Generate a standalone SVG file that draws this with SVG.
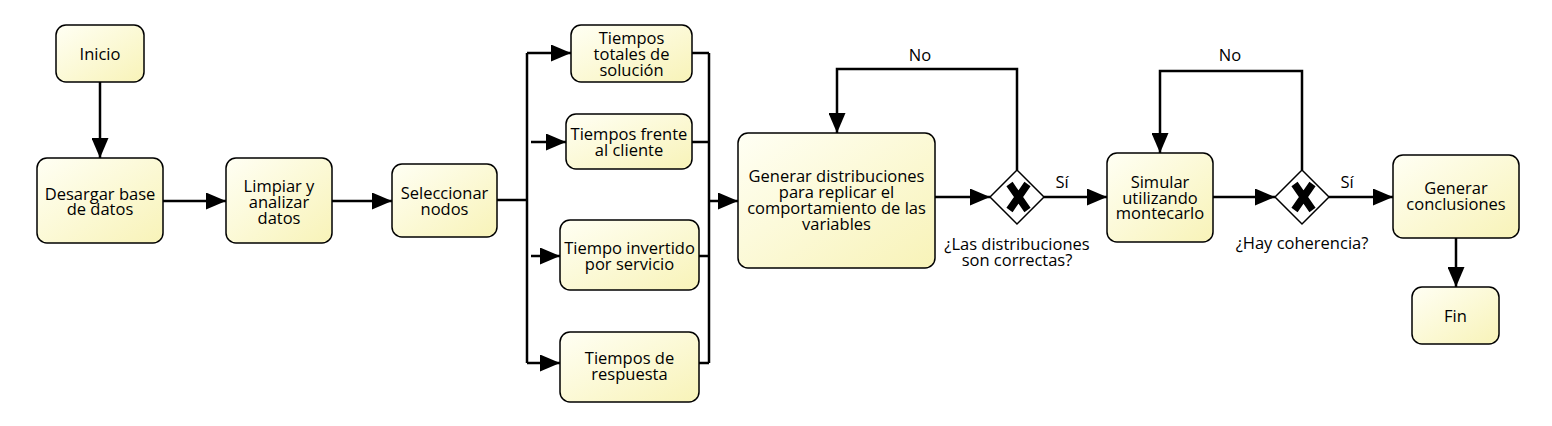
<svg xmlns="http://www.w3.org/2000/svg" width="1552" height="426" viewBox="0 0 1552 426">
<defs>
<linearGradient id="fill" x1="0" y1="0" x2="1" y2="1">
<stop offset="0" stop-color="#fffff4"/>
<stop offset="1" stop-color="#f8f3b8"/>
</linearGradient>
<marker id="arr" markerUnits="userSpaceOnUse" markerWidth="20" markerHeight="17" refX="20" refY="8.5" orient="auto" viewBox="0 0 20 17">
<path d="M0,0 L20,8.5 L0,17 z" fill="#000"/>
</marker>
</defs>
<style>
.box{fill:url(#fill);stroke:#000;stroke-width:1.5}
.gw{fill:#fff;stroke:#000;stroke-width:1.5}
.xm{stroke:#000;stroke-width:7.5;stroke-linecap:butt}
.t{font-family:"Open Sans","Noto Sans","DejaVu Sans",sans-serif;font-size:16.5px;fill:#000;text-anchor:middle}
.c{fill:none;stroke:#000;stroke-width:2.5}
.ca{fill:none;stroke:#000;stroke-width:2.5;marker-end:url(#arr)}
</style>
<g id="connectors">
<path class="ca" d="M100,82 V158"/>
<path class="ca" d="M163,201 H226"/>
<path class="ca" d="M332,201 H392"/>
<path class="c" d="M497,200 H527"/>
<path class="c" d="M527,53 V363"/>
<path class="ca" d="M527,53 H571"/>
<path class="ca" d="M531,142 H566"/>
<path class="ca" d="M531,256 H560"/>
<path class="ca" d="M527,363 H560"/>
<path class="c" d="M692,53 H709 M692,142 H709 M699,256 H709 M699,363 H709"/>
<path class="c" d="M709,53 V363"/>
<path class="ca" d="M709,201 H738"/>
<path class="ca" d="M935,197 H990"/>
<path class="ca" d="M1017,170 V69 H837 V133"/>
<path class="ca" d="M1044,197 H1107"/>
<path class="ca" d="M1213,197 H1275"/>
<path class="ca" d="M1302,170 V71 H1160 V153"/>
<path class="ca" d="M1329,197 H1393"/>
<path class="ca" d="M1456,238 V287"/>
<text class="t" x="920" y="61">No</text>
<text class="t" x="1230" y="61">No</text>
<text class="t" x="1062" y="188">Sí</text>
<text class="t" x="1347" y="188">Sí</text>
</g>
<g id="inicio">
<rect class="box" x="56" y="25" width="88" height="57" rx="10"/>
<text class="t" x="100" y="60">Inicio</text>
</g>
<g id="desargar">
<rect class="box" x="37" y="158" width="126" height="85" rx="10"/>
<text class="t" x="100" y="200">Desargar base<tspan x="100" dy="15">de datos</tspan></text>
</g>
<g id="limpiar">
<rect class="box" x="226" y="158" width="106" height="85" rx="10"/>
<text class="t" x="279" y="192">Limpiar y<tspan x="279" dy="16">analizar</tspan><tspan x="279" dy="16">datos</tspan></text>
</g>
<g id="seleccionar">
<rect class="box" x="392" y="164" width="105" height="73" rx="10"/>
<text class="t" x="444.5" y="199">Seleccionar<tspan x="444.5" dy="16">nodos</tspan></text>
</g>
<g id="t1">
<rect class="box" x="571" y="25" width="121" height="57" rx="10"/>
<text class="t" x="631.5" y="44">Tiempos<tspan x="631.5" dy="16">totales de</tspan><tspan x="631.5" dy="16">solución</tspan></text>
</g>
<g id="t2">
<rect class="box" x="566" y="114" width="126" height="55" rx="10"/>
<text class="t" x="629" y="140">Tiempos frente<tspan x="629" dy="16">al cliente</tspan></text>
</g>
<g id="t3">
<rect class="box" x="560" y="220" width="139" height="70" rx="10"/>
<text class="t" x="629.5" y="254">Tiempo invertido<tspan x="629.5" dy="16">por servicio</tspan></text>
</g>
<g id="t4">
<rect class="box" x="560" y="332" width="139" height="70" rx="10"/>
<text class="t" x="629.5" y="364">Tiempos de<tspan x="629.5" dy="16">respuesta</tspan></text>
</g>
<g id="generar">
<rect class="box" x="738" y="133" width="197" height="135" rx="10"/>
<text class="t" x="836.5" y="182">Generar distribuciones<tspan x="836.5" dy="16">para replicar el</tspan><tspan x="836.5" dy="16">comportamiento de las</tspan><tspan x="836.5" dy="16">variables</tspan></text>
</g>
<g id="gw1">
<polygon class="gw" points="990,197 1017,170 1044,197 1017,224"/>
<path class="xm" d="M1009.5,184 L1027.5,210 M1027.5,184 L1009.5,210"/>
<text class="t" x="1017" y="250">¿Las distribuciones<tspan x="1017" dy="15.5">son correctas?</tspan></text>
</g>
<g id="simular">
<rect class="box" x="1107" y="153" width="106" height="89" rx="10"/>
<text class="t" x="1160" y="188">Simular<tspan x="1160" dy="15.5">utilizando</tspan><tspan x="1160" dy="15.5">montecarlo</tspan></text>
</g>
<g id="gw2">
<polygon class="gw" points="1275,197 1302,170 1329,197 1302,224"/>
<path class="xm" d="M1294.5,184 L1312.5,210 M1312.5,184 L1294.5,210"/>
<text class="t" x="1302" y="249">¿Hay coherencia?</text>
</g>
<g id="conclusiones">
<rect class="box" x="1393" y="155" width="126" height="83" rx="10"/>
<text class="t" x="1456" y="194">Generar<tspan x="1456" dy="16">conclusiones</tspan></text>
</g>
<g id="fin">
<rect class="box" x="1412" y="287" width="87" height="57" rx="10"/>
<text class="t" x="1455.5" y="322">Fin</text>
</g>
</svg>
